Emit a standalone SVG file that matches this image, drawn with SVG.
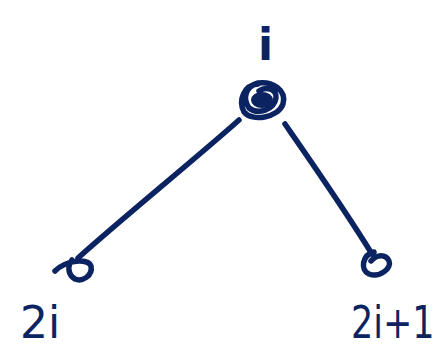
<svg xmlns="http://www.w3.org/2000/svg" width="442" height="347" viewBox="0 0 442 347">
<style>
.ink{fill:none;stroke:#0b2461;stroke-width:5.5;stroke-linecap:round;stroke-linejoin:round}
.lbl{fill:#0b2461;font-family:"DejaVu Sans",sans-serif;font-size:44px}
.sm{font-size:35px}
</style>
<rect width="442" height="347" fill="#fff"/>
<g id="connectors">
<path class="ink" d="M239,120 C200,155 120,220 78,258"/>
<path class="ink" d="M285,124 C310,160 345,210 372,254"/>
</g>
<g id="node-i">
<path class="ink" d="M258,84 C244,85 238,100 244,112 C252,122 278,118 283,104 C287,90 272,81 258,83 C246,86 242,98 249,108 C258,115 274,110 276,98 C277,89 266,86 259,91" stroke-width="7"/>
<ellipse cx="262" cy="100" rx="11" ry="8" fill="#0b2461"/>
<text class="lbl" x="258" y="60" font-weight="bold">i</text>
</g>
<g id="node-2i">
<path class="ink" d="M55,271 C66,260 88,258 91,266 C93,276 82,282 75,279 C68,275 67,266 72,260"/>
<text class="lbl" x="20" y="338">2i</text>
</g>
<g id="node-2i1">
<path class="ink" d="M374,252 C362,255 360,270 369,274 C380,278 392,268 389,261 C386,254 377,254 371,261"/>
<text class="lbl sm" x="0" y="0" transform="translate(351,338) scale(1,1.25)">2i+1</text>
</g>
</svg>
